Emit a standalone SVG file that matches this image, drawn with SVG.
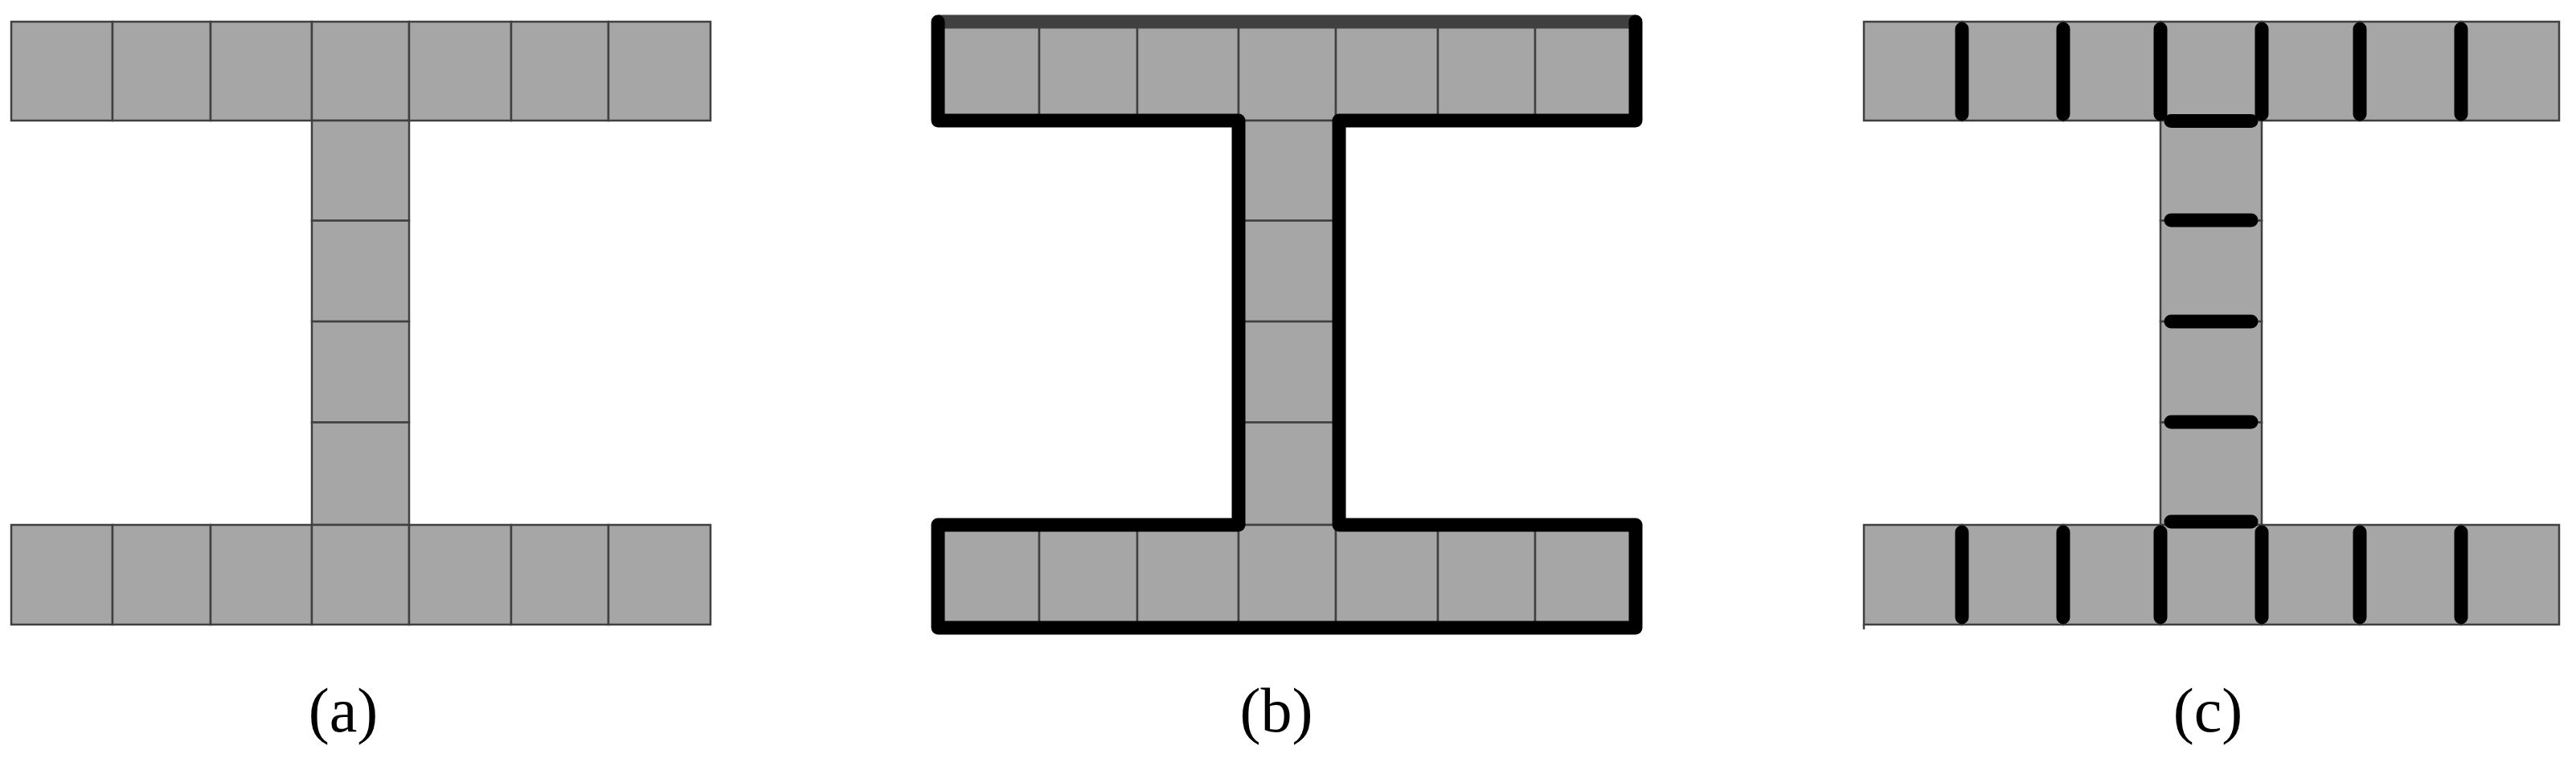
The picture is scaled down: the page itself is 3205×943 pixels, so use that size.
<svg xmlns="http://www.w3.org/2000/svg" width="3205" height="943" viewBox="0 0 3205 943">
<style>
.c{fill:#a6a6a6;stroke:#404040;stroke-width:2.5}
.bar{stroke:#000;stroke-width:17;stroke-linecap:round;fill:none}
.outline{stroke:#000;stroke-width:17;stroke-linecap:round;stroke-linejoin:round;fill:none}
.lbl{font-family:"Liberation Serif","Times New Roman",serif;font-size:78px;fill:#000;text-anchor:middle}
</style>
<rect width="3205" height="943" fill="#fff"/>
<g id="panel-a">
<rect class="c" x="14" y="27" width="126" height="123"/>
<rect class="c" x="140" y="27" width="122" height="123"/>
<rect class="c" x="262" y="27" width="126" height="123"/>
<rect class="c" x="388" y="27" width="121" height="123"/>
<rect class="c" x="509" y="27" width="127" height="123"/>
<rect class="c" x="636" y="27" width="121" height="123"/>
<rect class="c" x="757" y="27" width="127" height="123"/>
<rect class="c" x="388" y="150" width="121" height="124.5"/>
<rect class="c" x="388" y="274.5" width="121" height="125.5"/>
<rect class="c" x="388" y="400" width="121" height="125.5"/>
<rect class="c" x="388" y="525.5" width="121" height="127.5"/>
<rect class="c" x="14" y="653" width="126" height="124"/>
<rect class="c" x="140" y="653" width="122" height="124"/>
<rect class="c" x="262" y="653" width="126" height="124"/>
<rect class="c" x="388" y="653" width="121" height="124"/>
<rect class="c" x="509" y="653" width="127" height="124"/>
<rect class="c" x="636" y="653" width="121" height="124"/>
<rect class="c" x="757" y="653" width="127" height="124"/>
<text class="lbl" x="427" y="910">(a)</text>
</g>
<g id="panel-b">
<rect class="c" x="1167" y="27" width="126" height="123"/>
<rect class="c" x="1293" y="27" width="122" height="123"/>
<rect class="c" x="1415" y="27" width="126" height="123"/>
<rect class="c" x="1541" y="27" width="121" height="123"/>
<rect class="c" x="1662" y="27" width="127" height="123"/>
<rect class="c" x="1789" y="27" width="121" height="123"/>
<rect class="c" x="1910" y="27" width="127" height="123"/>
<rect class="c" x="1541" y="150" width="121" height="124.5"/>
<rect class="c" x="1541" y="274.5" width="121" height="125.5"/>
<rect class="c" x="1541" y="400" width="121" height="125.5"/>
<rect class="c" x="1541" y="525.5" width="121" height="127.5"/>
<rect class="c" x="1167" y="653" width="126" height="124"/>
<rect class="c" x="1293" y="653" width="122" height="124"/>
<rect class="c" x="1415" y="653" width="126" height="124"/>
<rect class="c" x="1541" y="653" width="121" height="124"/>
<rect class="c" x="1662" y="653" width="127" height="124"/>
<rect class="c" x="1789" y="653" width="121" height="124"/>
<rect class="c" x="1910" y="653" width="127" height="124"/>
<text class="lbl" x="1588" y="910">(b)</text>
</g>
<g id="panel-c">
<rect class="c" x="2319" y="27" width="122" height="123"/>
<rect class="c" x="2441" y="27" width="126" height="123"/>
<rect class="c" x="2567" y="27" width="121" height="123"/>
<rect class="c" x="2688" y="27" width="126" height="123"/>
<rect class="c" x="2814" y="27" width="122" height="123"/>
<rect class="c" x="2936" y="27" width="126" height="123"/>
<rect class="c" x="3062" y="27" width="122" height="123"/>
<rect class="c" x="2688" y="150" width="126" height="124.5"/>
<rect class="c" x="2688" y="274.5" width="126" height="125.5"/>
<rect class="c" x="2688" y="400" width="126" height="125.5"/>
<rect class="c" x="2688" y="525.5" width="126" height="127.5"/>
<rect class="c" x="2319" y="653" width="122" height="124"/>
<rect class="c" x="2441" y="653" width="126" height="124"/>
<rect class="c" x="2567" y="653" width="121" height="124"/>
<rect class="c" x="2688" y="653" width="126" height="124"/>
<rect class="c" x="2814" y="653" width="122" height="124"/>
<rect class="c" x="2936" y="653" width="126" height="124"/>
<rect class="c" x="3062" y="653" width="122" height="124"/>
<line x1="2319" y1="777" x2="2319" y2="783" stroke="#404040" stroke-width="2.5"/>
<text class="lbl" x="2747" y="910">(c)</text>
</g>
<g id="connectors">
<line x1="1167" y1="27" x2="2035" y2="27" stroke="#404040" stroke-width="17"/>
<path class="outline" d="M1167,27 L1167,150 L1541,150 L1541,653 L1167,653 L1167,781 L2035,781 L2035,653 L1666,653 L1666,150 L2035,150 L2035,27"/>
<g class="bar">
<line x1="2441" y1="36" x2="2441" y2="142"/>
<line x1="2567" y1="36" x2="2567" y2="142"/>
<line x1="2688" y1="36" x2="2688" y2="142"/>
<line x1="2814" y1="36" x2="2814" y2="142"/>
<line x1="2936" y1="36" x2="2936" y2="142"/>
<line x1="3062" y1="36" x2="3062" y2="142"/>
<line x1="2701" y1="150.5" x2="2801" y2="150.5"/>
<line x1="2701" y1="274" x2="2801" y2="274"/>
<line x1="2701" y1="400" x2="2801" y2="400"/>
<line x1="2701" y1="525" x2="2801" y2="525"/>
<line x1="2701" y1="649" x2="2801" y2="649"/>
<line x1="2441" y1="662" x2="2441" y2="768"/>
<line x1="2567" y1="662" x2="2567" y2="768"/>
<line x1="2688" y1="662" x2="2688" y2="768"/>
<line x1="2814" y1="662" x2="2814" y2="768"/>
<line x1="2936" y1="662" x2="2936" y2="768"/>
<line x1="3062" y1="662" x2="3062" y2="768"/>
</g>
</g>
</svg>
